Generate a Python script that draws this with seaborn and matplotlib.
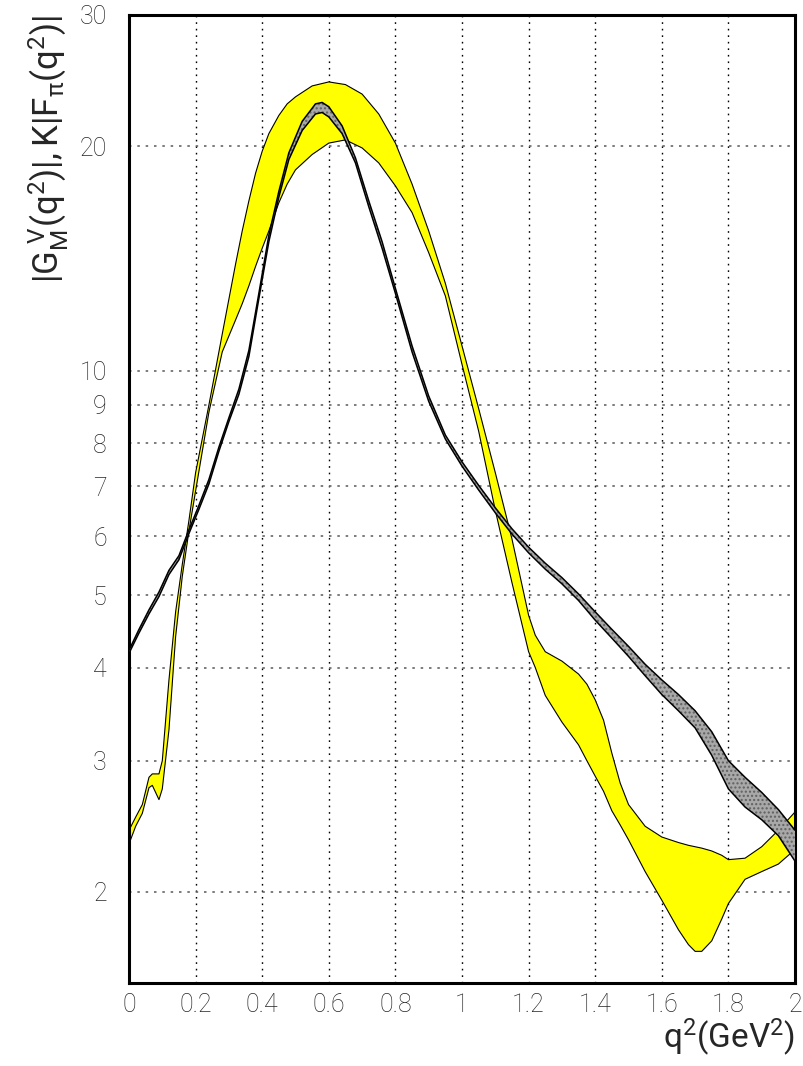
import numpy as np
import pandas as pd
import matplotlib
matplotlib.use("Agg")
import matplotlib.pyplot as plt
from matplotlib.ticker import FixedLocator, FixedFormatter, MultipleLocator, NullLocator
import seaborn as sns

# ---------------- data ----------------
# yellow band  (K|F_pi(q^2)|)
yel_q2 = [0.0, 0.02, 0.04, 0.06, 0.07, 0.09, 0.10, 0.12, 0.14, 0.16, 0.18, 0.20,
          0.24, 0.28, 0.32, 0.34, 0.36, 0.38, 0.40, 0.42, 0.45, 0.475, 0.50, 0.55,
          0.60, 0.65, 0.70, 0.75, 0.80, 0.85, 0.90, 0.95, 1.00, 1.05, 1.10, 1.15,
          1.20, 1.22, 1.25, 1.30, 1.35, 1.375, 1.40, 1.425, 1.45, 1.475, 1.50, 1.55, 1.60,
          1.65, 1.68, 1.70, 1.72, 1.75, 1.78, 1.80, 1.85, 1.90, 1.95, 2.00]
yel_hi = [2.42, 2.52, 2.62, 2.85, 2.88, 2.88, 3.0, 3.85, 4.75, 5.5, 6.3, 7.3,
          9.0, 11.2, 13.9, 15.4, 16.9, 18.4, 19.7, 20.8, 22.0, 22.8, 23.3, 24.1,
          24.4, 24.2, 23.5, 22.1, 20.2, 17.8, 15.4, 13.1, 10.8, 8.9, 7.3, 5.95,
          4.7, 4.42, 4.2, 4.08, 3.92, 3.8, 3.62, 3.4, 3.07, 2.8, 2.62, 2.45, 2.37,
          2.33, 2.31, 2.30, 2.29, 2.27, 2.24, 2.21, 2.22, 2.30, 2.42, 2.56]
yel_lo = [2.32, 2.45, 2.55, 2.76, 2.78, 2.66, 2.75, 3.3, 4.4, 5.3, 6.1, 6.9,
          8.8, 10.6, 11.7, 12.3, 13.0, 13.8, 14.6, 15.4, 16.8, 17.8, 18.6, 19.5,
          20.2, 20.4, 19.9, 19.0, 17.7, 16.3, 14.4, 12.6, 10.2, 8.3, 6.5, 5.2,
          4.2, 4.0, 3.67, 3.38, 3.15, 3.0, 2.86, 2.73, 2.57, 2.46, 2.35, 2.13, 1.95,
          1.78, 1.70, 1.665, 1.665, 1.72, 1.84, 1.93, 2.08, 2.13, 2.18, 2.28]

# grey band  (|G_M^V(q^2)|)
grey_q2 = [0.0, 0.03, 0.06, 0.09, 0.12, 0.15, 0.18, 0.21, 0.24, 0.27, 0.30, 0.33,
           0.36, 0.39, 0.42, 0.45, 0.48, 0.52, 0.56, 0.58, 0.60, 0.64, 0.68, 0.72,
           0.76, 0.80, 0.85, 0.90, 0.95, 1.00, 1.05, 1.10, 1.15, 1.20, 1.25, 1.30,
           1.35, 1.40, 1.45, 1.50, 1.55, 1.60, 1.65, 1.70, 1.75, 1.80, 1.85, 1.90,
           1.95, 2.00]
grey_hi = [4.22, 4.5, 4.78, 5.05, 5.4, 5.65, 6.12, 6.6, 7.15, 7.9, 8.65, 9.45,
           10.65, 12.7, 15.2, 17.4, 19.6, 21.6, 22.8, 22.9, 22.6, 21.3, 19.3, 16.9,
           14.9, 12.9, 10.8, 9.25, 8.2, 7.55, 7.02, 6.55, 6.14, 5.8, 5.52, 5.28,
           5.02, 4.75, 4.5, 4.27, 4.04, 3.85, 3.68, 3.5, 3.28, 3.0, 2.85, 2.72,
           2.58, 2.42]
grey_lo = [4.18, 4.45, 4.72, 4.98, 5.33, 5.58, 6.05, 6.52, 7.05, 7.8, 8.55, 9.3,
           10.45, 12.5, 14.9, 17.1, 19.2, 21.0, 22.1, 22.2, 21.9, 20.8, 19.0, 16.6,
           14.6, 12.7, 10.6, 9.1, 8.1, 7.45, 6.92, 6.45, 6.04, 5.7, 5.42, 5.18,
           4.92, 4.63, 4.38, 4.14, 3.9, 3.68, 3.5, 3.32, 3.05, 2.75, 2.6, 2.5,
           2.38, 2.2]

x_ticks = [0, 0.2, 0.4, 0.6, 0.8, 1.0, 1.2, 1.4, 1.6, 1.8, 2.0]
x_labels = ["0", "0.2", "0.4", "0.6", "0.8", "1", "1.2", "1.4", "1.6", "1.8", "2"]
y_ticks = [2, 3, 4, 5, 6, 7, 8, 9, 10, 20, 30]
y_labels = ["2", "3", "4", "5", "6", "7", "8", "9", "10", "20", "30"]

# ---------------- style ----------------
sns.set_style("white")
plt.rcParams["font.family"] = ["Roboto", "DejaVu Sans"]
plt.rcParams["font.weight"] = "light"
plt.rcParams["mathtext.fontset"] = "custom"
plt.rcParams["mathtext.rm"] = "Roboto:light"
plt.rcParams["mathtext.it"] = "Roboto:light"
plt.rcParams["mathtext.default"] = "regular"

fig = plt.figure(figsize=(8.04, 10.66), dpi=100)
ax = fig.add_axes([129 / 804, 83 / 1066, 666 / 804, 968 / 1066])

df_y = pd.DataFrame({"q2": yel_q2, "hi": yel_hi, "lo": yel_lo})
df_g = pd.DataFrame({"q2": grey_q2, "hi": grey_hi, "lo": grey_lo})

ax.fill_between(df_y["q2"], df_y["lo"], df_y["hi"], facecolor="#ffff00",
                edgecolor="none", zorder=2)
sns.lineplot(data=df_y, x="q2", y="hi", ax=ax, color="black", lw=0.8, zorder=3)
sns.lineplot(data=df_y, x="q2", y="lo", ax=ax, color="black", lw=0.8, zorder=3)

ax.fill_between(df_g["q2"], df_g["lo"], df_g["hi"], facecolor="#a8a8a8",
                edgecolor="#606060", hatch="....", lw=0, zorder=4)
sns.lineplot(data=df_g, x="q2", y="hi", ax=ax, color="black", lw=1.1, zorder=5)
sns.lineplot(data=df_g, x="q2", y="lo", ax=ax, color="black", lw=1.1, zorder=5)

ax.set_yscale("log")
ax.set_xlim(0, 2)
ax.set_ylim(1.51, 30)

ax.xaxis.set_major_locator(FixedLocator(x_ticks))
ax.xaxis.set_major_formatter(FixedFormatter(x_labels))
ax.xaxis.set_minor_locator(MultipleLocator(0.05))
ax.yaxis.set_major_locator(FixedLocator(y_ticks))
ax.yaxis.set_major_formatter(FixedFormatter(y_labels))
ax.yaxis.set_minor_locator(NullLocator())

ax.tick_params(axis="x", which="major", direction="in", length=13, width=1,
               labelsize=18, pad=7, top=False)
ax.tick_params(axis="x", which="minor", direction="in", length=5, width=1, top=False)
ax.tick_params(axis="y", which="major", direction="in", length=6, width=1,
               labelsize=18, pad=16, right=False)

for xv in x_ticks[1:-1]:
    ax.axvline(xv, color="black", lw=1, ls=(0, (1.2, 3.5)), zorder=1)
for yv in y_ticks[:-1]:
    ax.axhline(yv, color="#666666", lw=1.2, ls=(0, (1.5, 3.5)), zorder=1)

for sp in ax.spines.values():
    sp.set_linewidth(2.2)
    sp.set_color("black")

ax.set_xlabel(r"$\mathregular{q^2(GeV^2)}$", fontsize=24, loc="right", labelpad=0)
ax.set_ylabel(r"$\mathregular{|G_M^{\ V}(q^2)|,K|F_\pi(q^2)|}$", fontsize=25, loc="top",
              labelpad=6)

fig.savefig("out.png", dpi=100)
